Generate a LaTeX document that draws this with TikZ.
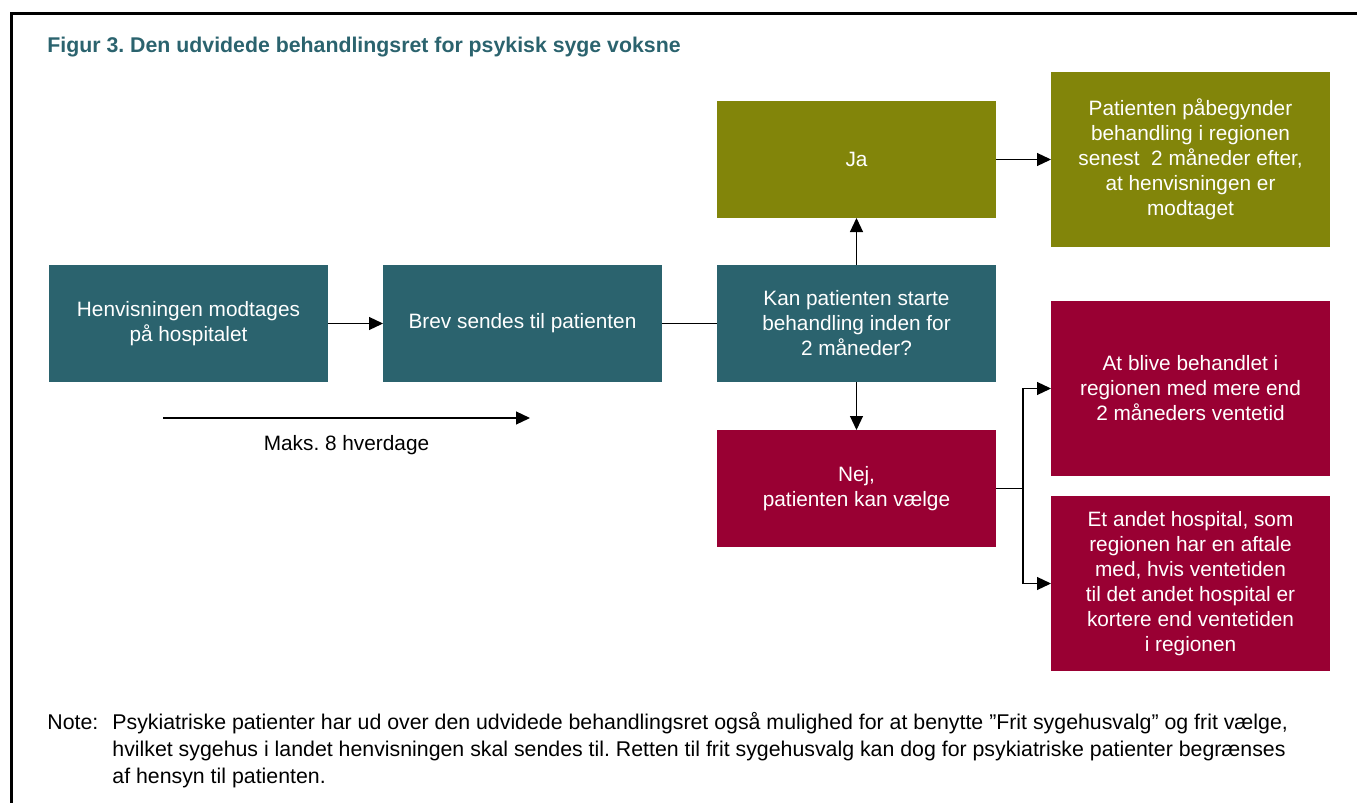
\documentclass[tikz,border=0pt]{standalone}
\usepackage{fontspec}
\setmainfont{Liberation Sans}
\frenchspacing
\usetikzlibrary{positioning, arrows.meta}
\definecolor{boxteal}{RGB}{43,99,110}
\definecolor{boxolive}{RGB}{130,133,10}
\definecolor{boxred}{RGB}{153,0,51}
\tikzstyle{stepbox} = [rectangle, minimum width=139.5pt, minimum height=58.5pt, inner sep=0pt, outer sep=0pt, align=center, text=white, font=\fontsize{10.4}{12.5}\selectfont]
\tikzstyle{tealbox} = [stepbox, fill=boxteal]
\tikzstyle{yesbox} = [stepbox, fill=boxolive]
\tikzstyle{nobox} = [stepbox, fill=boxred]
\tikzstyle{tallbox} = [minimum height=87.5pt]
\tikzstyle{connector} = [draw, line width=0.6pt, -{Triangle[length=7pt,width=6.5pt]}]
\tikzstyle{plainline} = [draw, line width=0.6pt]

\begin{document}
\begin{tikzpicture}[x=0.5pt, y=-0.5pt, node distance=23.5pt and 27.5pt]
    % Frame
    \useasboundingbox (0,0) rectangle (1357,803);
    \draw [line width=1.5pt] (11,803) -- (11,13) -- (1357,13);
    \node [anchor=west, inner sep=0pt, text=boxteal, font=\bfseries\fontsize{10.65}{12}\selectfont] (title) at (47,47) {Figur 3. Den udvidede behandlingsret for psykisk syge voksne};

    % Nodes
    \node [tealbox] (refer) at (188.5,323.5) {Henvisningen modtages\\på hospitalet};
    \node [tealbox, right=of refer] (letter) {Brev sendes til patienten};
    \node [tealbox, right=of letter] (ask) {Kan patienten starte\\behandling inden for\\2 måneder?};
    \node [yesbox, above=of ask] (yes) {Ja};
    \node [yesbox, tallbox, right=of yes] (start) {Patienten påbegynder\\behandling i regionen\\senest \ 2 måneder efter,\\at henvisningen er\\modtaget};
    \node [nobox, below=24pt of ask] (no) {Nej,\\patienten kan vælge};
    \node [nobox, tallbox, right=of no, yshift=50pt] (wait) {At blive behandlet i\\regionen med mere end\\2 måneders ventetid};
    \node [nobox, tallbox, below=10pt of wait] (other) {Et andet hospital, som\\regionen har en aftale\\med, hvis ventetiden\\til det andet hospital er\\kortere end ventetiden\\i regionen};
    \coordinate [right=13.5pt of no] (fork);
    \coordinate (daysfrom) at (163,418);
    \coordinate (daysto) at (530,418);

    % Arrows
    \path [connector] (refer) -- (letter);
    \path [plainline] (letter) -- (ask);
    \path [connector] (ask) -- (yes);
    \path [connector] (ask) -- (no);
    \path [connector] (yes) -- (start);
    \path [connector] (no.east) -- (fork) |- (wait.west);
    \path [connector] (fork) |- (other.west);
    \path [connector] (daysfrom) -- node[below=5pt, font=\fontsize{10.4}{12.5}\selectfont] (days) {Maks. 8 hverdage} (daysto);

    % Note
    \node [anchor=north west, inner sep=0pt, align=left, font=\fontsize{10.66}{13.5}\selectfont] (note) at (47,712) {\makebox[32.5pt][l]{Note:}Psykiatriske patienter har ud over den udvidede behandlingsret også mulighed for at benytte ”Frit sygehusvalg” og frit vælge,\\\hspace*{32.5pt}hvilket sygehus i landet henvisningen skal sendes til. Retten til frit sygehusvalg kan dog for psykiatriske patienter begrænses\\\hspace*{32.5pt}af hensyn til patienten.};
\end{tikzpicture}
\end{document}
